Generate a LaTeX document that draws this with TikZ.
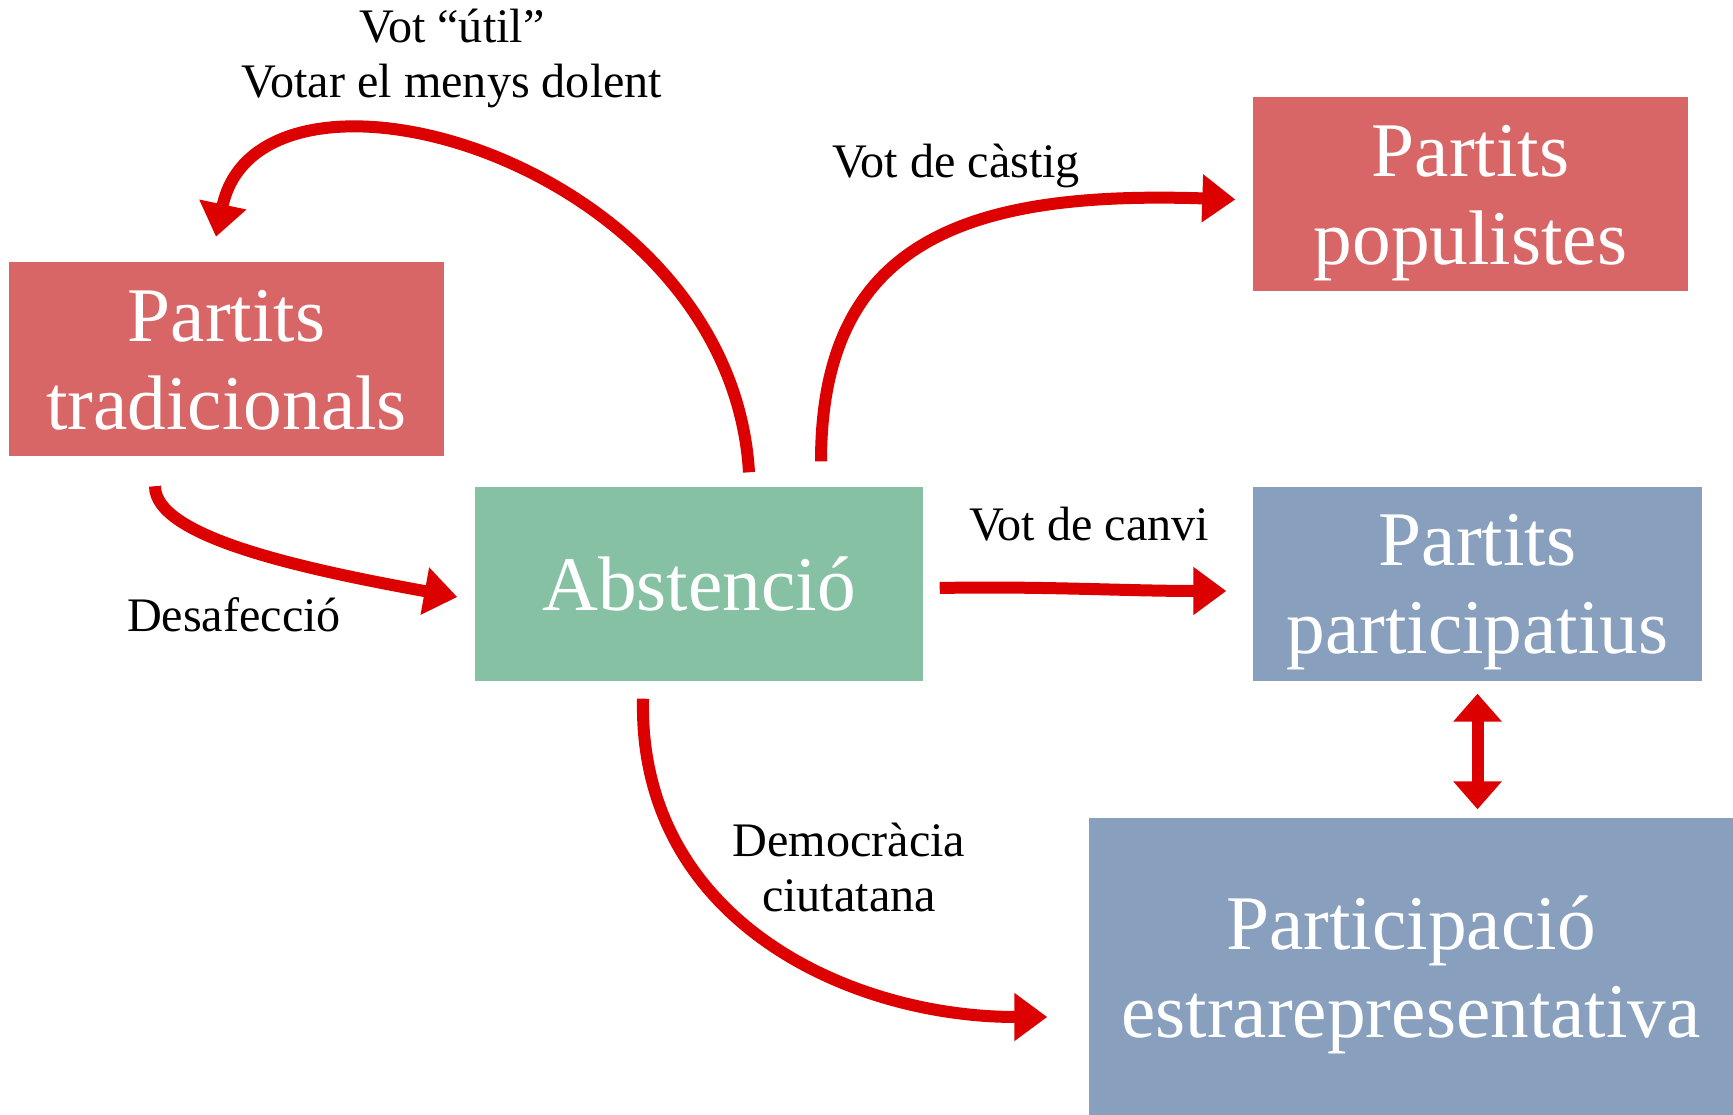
\documentclass[tikz,border=0pt]{standalone}
\usepackage{fontspec}
\setmainfont{Liberation Serif}
\usetikzlibrary{arrows.meta}
\definecolor{boxred}{RGB}{217,102,102}
\definecolor{boxgreen}{RGB}{134,193,164}
\definecolor{boxblue}{RGB}{136,160,190}
\definecolor{arrred}{RGB}{221,0,0}

\begin{document}
\begin{tikzpicture}[
  block/.style={rectangle, inner sep=0pt, align=center, text=white, text depth=0pt,
                font=\fontsize{22}{25}\selectfont},
  redbox/.style={block, fill=boxred, minimum width=4.35cm, minimum height=1.94cm},
  greenbox/.style={block, fill=boxgreen, minimum width=4.48cm, minimum height=1.94cm},
  bluebox/.style={block, fill=boxblue, minimum width=4.49cm, minimum height=1.94cm},
  arr/.style={-{Triangle[length=0.33cm, width=0.46cm]}, line width=0.12cm, draw=arrred},
  dblarr/.style={arr, {Triangle[length=0.28cm, width=0.47cm]}-{Triangle[length=0.28cm, width=0.47cm]}},
  lbl/.style={align=center, font=\fontsize{13.7}{15.7}\selectfont}
]
\useasboundingbox (0,0) rectangle (17.33,-11.15);

\node[redbox] (trad) at (2.265,-3.595) {Partits\\tradicionals};
\node[redbox] (pop) at (14.705,-1.945) {Partits\\populistes};
\node[greenbox] (abst) at (6.99,-5.84) {Abstenció};
\node[bluebox] (part) at (14.775,-5.84) {Partits\\participatius};
\node[bluebox, minimum width=6.44cm, minimum height=2.97cm] (estr) at (14.11,-9.665)
  {Participació\\estrarepresentativa};

\node[lbl] (util) at (4.52,-0.585) {Vot “útil”\\Votar el menys dolent};
\node[lbl] (castig) at (9.56,-1.66) {Vot de càstig};
\node[lbl] (canvi) at (10.89,-5.24) {Vot de canvi};
\node[lbl] (desaf) at (2.34,-6.15) {Desafecció};
\node[lbl] (democ) at (8.49,-8.675) {Democràcia\\ciutatana};

\draw[arr] ([xshift=0.5cm,yshift=0.14cm]abst.north) .. controls +(-0.19,3.13) and +(0.44,2.08) .. ([xshift=-0.105cm,yshift=0.25cm]trad.north);
\draw[arr] ([xshift=1.22cm,yshift=0.25cm]abst.north) .. controls +(0,2.22) and +(-2.66,0.09) .. ([xshift=-0.17cm,yshift=-0.05cm]pop.west);
\draw[arr] ([xshift=-0.715cm,yshift=-0.29cm]trad.south) .. controls +(0,-0.5) and +(-1.6,0.29) .. ([xshift=-0.17cm,yshift=-0.13cm]abst.west);
\draw[arr] ([xshift=0.16cm,yshift=-0.04cm]abst.east) .. controls +(1,0.02) and +(-1,0) .. ([xshift=-0.26cm,yshift=-0.07cm]part.west);
\draw[arr] ([xshift=-0.56cm,yshift=-0.17cm]abst.south) .. controls +(-0.05,-2.2) and +(-2,0) .. ([xshift=-0.41cm,yshift=-0.505cm]estr.west);
\draw[dblarr, shorten <=0.12cm, shorten >=0.08cm] (part.south) -- (part.south |- estr.north);
\end{tikzpicture}
\end{document}
